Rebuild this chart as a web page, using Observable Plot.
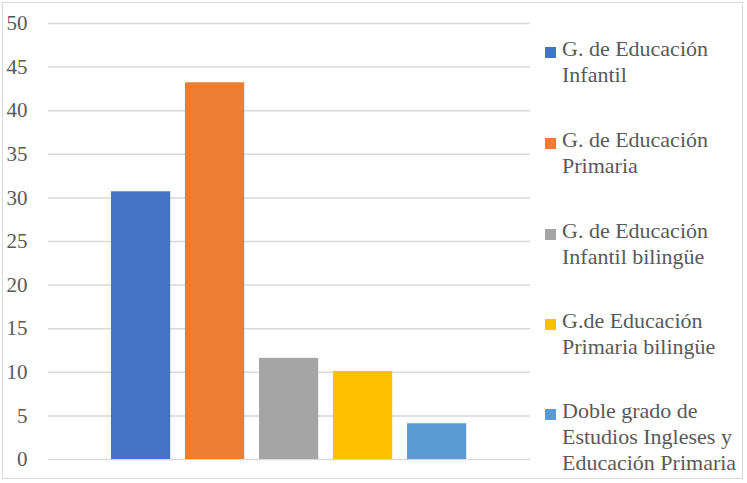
<!DOCTYPE html>
<html>
<head>
<meta charset="utf-8">
<script src="https://cdn.jsdelivr.net/npm/d3@7"></script>
<script src="https://cdn.jsdelivr.net/npm/@observablehq/plot@0.6"></script>
<style>
  html, body { margin: 0; padding: 0; background: #fff; }
  #wrap { position: relative; width: 747px; height: 483px; overflow: hidden; }
  #border { position: absolute; left: 2px; top: 2px; width: 741px; height: 477px; border: 1.5px solid #d9d9d9; box-sizing: border-box; pointer-events: none; }
  .entry { position: absolute; left: 545px; white-space: nowrap; }
  .sw { position: absolute; left: 0; top: 11px; width: 11px; height: 11px; }
  .txt { position: absolute; left: 17px; top: 0; }
</style>
</head>
<body>
<div id="wrap"><div id="border"></div><div id="legend" style="position:absolute;left:0;top:0;font-family:'Liberation Serif','Tinos','Times New Roman',serif;font-size:22px;line-height:26px;color:#595959"></div></div>
<script>
const categories = [
  "G. de Educación Infantil",
  "G. de Educación Primaria",
  "G. de Educación Infantil bilingüe",
  "G.de Educación Primaria bilingüe",
  "Doble grado de Estudios Ingleses y Educación Primaria"
];
const legendLines = [
  ["G. de Educación", "Infantil"],
  ["G. de Educación", "Primaria"],
  ["G. de Educación", "Infantil bilingüe"],
  ["G.de Educación", "Primaria bilingüe"],
  ["Doble grado de", "Estudios Ingleses y", "Educación Primaria"]
];
const values = [30.7, 43.2, 11.6, 10.1, 4.1];
const colors = ["#4472C4", "#ED7D31", "#A5A5A5", "#FFC000", "#5B9BD5"];
const yTicks = [0, 5, 10, 15, 20, 25, 30, 35, 40, 45, 50];

const SERIF = "'Liberation Serif', 'Tinos', 'Times New Roman', serif";
const data = categories.map((c, i) => ({category: c, value: values[i]}));

const chart = Plot.plot({
  width: 747,
  height: 483,
  marginTop: 23,
  marginBottom: 24,
  marginLeft: 48,
  marginRight: 217,
  style: {fontFamily: SERIF, fontSize: "21px", color: "#595959", background: "transparent"},
  x: {axis: null, domain: categories, range: [111, 466.2], paddingInner: 0.2, paddingOuter: 0, round: false},
  y: {domain: [0, 50]},
  color: {domain: categories, range: colors},
  marks: [
    Plot.gridY(yTicks, {stroke: "#d9d9d9", strokeOpacity: 1, strokeWidth: 1.5}),
    Plot.barY(data, {x: "category", y: "value", fill: "category"}),
    Plot.axisY(yTicks, {tickSize: 0, tickPadding: 21, fontSize: 21, label: null, tickFormat: d => String(d)})
  ]
});
document.getElementById("wrap").insertBefore(chart, document.getElementById("border"));

const tops = [36, 127, 218, 308, 398];
const legend = document.getElementById("legend");
legendLines.forEach((lines, i) => {
  const e = document.createElement("div");
  e.className = "entry";
  e.style.top = tops[i] + "px";
  const sw = document.createElement("div");
  sw.className = "sw";
  sw.style.background = colors[i];
  const t = document.createElement("div");
  t.className = "txt";
  t.innerHTML = lines.join("<br>");
  e.appendChild(sw); e.appendChild(t);
  legend.appendChild(e);
});
</script>
</body>
</html>
